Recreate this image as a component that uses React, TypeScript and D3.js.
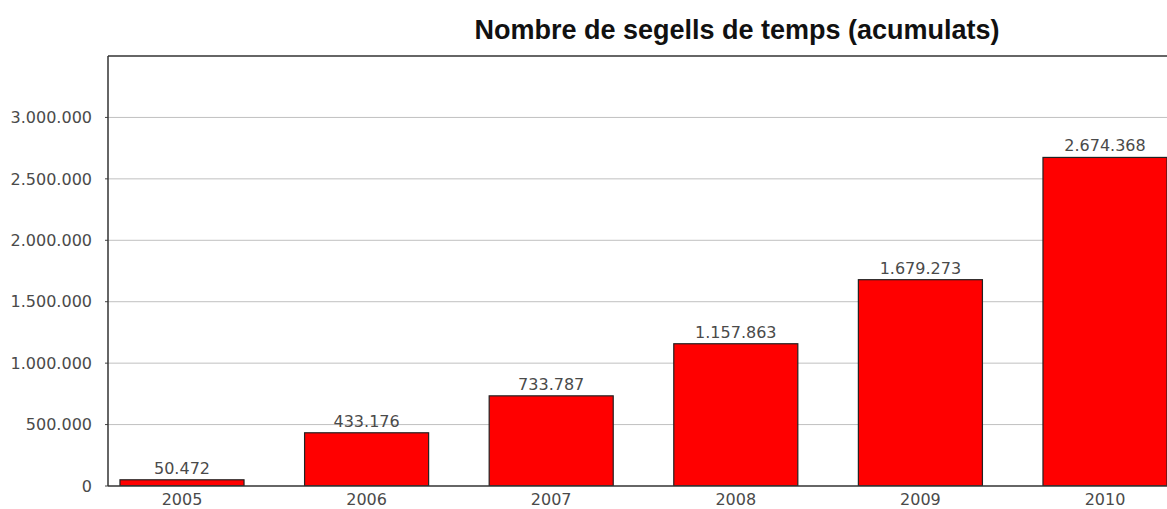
import React from "react";
import * as d3 from "d3";

const years = ["2005", "2006", "2007", "2008", "2009", "2010"];
const stamps = [50472, 433176, 733787, 1157863, 1679273, 2674368];
const yTicks = [0, 500000, 1000000, 1500000, 2000000, 2500000, 3000000];
const title = "Nombre de segells de temps (acumulats)";

const W = 1167;
const H = 509;
const margin = { top: 56, left: 108, bottom: 486 };

const ca = d3.formatLocale({ decimal: ",", thousands: ".", grouping: [3], currency: ["", " €"] });
const fmt = ca.format(",d");

const App = () => {
  const x = d3.scaleBand()
    .domain(years)
    .range([89.7, 89.7 + 6 * 184.6])
    .paddingInner(0.328)
    .paddingOuter(0.164);

  const y = d3.scaleLinear()
    .domain([0, 3500000])
    .range([margin.bottom, margin.top]);

  const font = "'DejaVu Sans', Verdana, sans-serif";

  return (
    <svg width={W} height={H} style={{ position: "absolute", left: 0, top: 0, background: "#fff" }}>
      <defs>
        <clipPath id="plot">
          <rect x={margin.left} y={margin.top} width={W - margin.left} height={margin.bottom - margin.top} />
        </clipPath>
      </defs>
      <text x={737} y={39} textAnchor="middle" fontFamily="'Liberation Sans', Arial, sans-serif"
        fontSize={27} fontWeight="bold" fill="#111">
        {title}
      </text>

      {/* gridlines + y labels */}
      {yTicks.map((t) => (
        <g key={t}>
          {t > 0 && (
            <line x1={margin.left} x2={W} y1={y(t)} y2={y(t)} stroke="#c0c0c0" strokeWidth={1} />
          )}
          <line x1={margin.left - 3} x2={margin.left} y1={y(t)} y2={y(t)} stroke="#444" />
          <text x={92} y={y(t)} dy="0.36em" textAnchor="end" fontFamily={font} fontSize={16}
            fill="#4a4a4a">{fmt(t)}</text>
        </g>
      ))}

      {/* bars */}
      <g clipPath="url(#plot)">
        {years.map((yr, i) => (
          <rect key={yr} x={x(yr)} y={y(stamps[i])} width={x.bandwidth()}
            height={margin.bottom - y(stamps[i])} fill="#ff0000" stroke="#222" strokeWidth={1.2} />
        ))}
      </g>

      {/* value labels */}
      {years.map((yr, i) => (
        <text key={yr} x={x(yr) + x.bandwidth() / 2} y={y(stamps[i]) - 6} textAnchor="middle"
          fontFamily={font} fontSize={16} fill="#4a4a4a">{fmt(stamps[i])}</text>
      ))}

      {/* x labels */}
      {years.map((yr) => (
        <text key={yr} x={x(yr) + x.bandwidth() / 2} y={505} textAnchor="middle"
          fontFamily={font} fontSize={16} fill="#4a4a4a">{yr}</text>
      ))}

      {/* frame */}
      <line x1={margin.left} x2={W} y1={margin.top} y2={margin.top} stroke="#333" strokeWidth={1.5} />
      <line x1={margin.left} x2={margin.left} y1={margin.top} y2={margin.bottom} stroke="#333" strokeWidth={1.5} />
      <line x1={margin.left} x2={W} y1={margin.bottom} y2={margin.bottom} stroke="#333" strokeWidth={1.5} />
    </svg>
  );
};

export default App;
